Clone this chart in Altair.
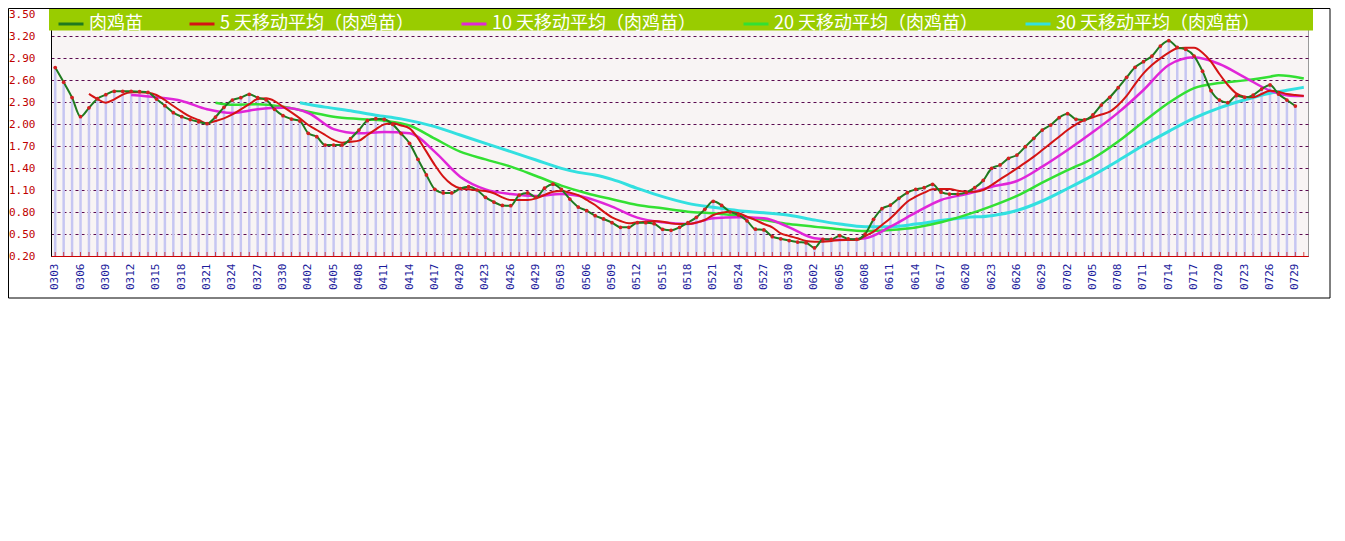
import altair as alt
import pandas as pd

# ---------------- categories ----------------
DATES = [
    "0303", "0304", "0305", "0306", "0307", "0308", "0309", "0310", "0311", "0312",
    "0313", "0314", "0315", "0316", "0317", "0318", "0319", "0320", "0321", "0322",
    "0323", "0324", "0325", "0326", "0327", "0328", "0329", "0330", "0331",
    "0401", "0402", "0403", "0404", "0405", "0406", "0407", "0408", "0409", "0410",
    "0411", "0412", "0413", "0414", "0415", "0416", "0417", "0418", "0419", "0420",
    "0421", "0422", "0423", "0424", "0425", "0426", "0427", "0428", "0429", "0430",
    "0502", "0503", "0504", "0505", "0506", "0507", "0508", "0509", "0510", "0511",
    "0512", "0513", "0514", "0515", "0516", "0517", "0518", "0519", "0520", "0521",
    "0522", "0523", "0524", "0525", "0526", "0527", "0528", "0529", "0530", "0531",
    "0601", "0602", "0603", "0604", "0605", "0606", "0607", "0608", "0609", "0610",
    "0611", "0612", "0613", "0614", "0615", "0616", "0617", "0618", "0619", "0620",
    "0621", "0622", "0623", "0624", "0625", "0626", "0627", "0628", "0629", "0630",
    "0701", "0702", "0703", "0704", "0705", "0706", "0707", "0708", "0709", "0710",
    "0711", "0712", "0713", "0714", "0715", "0716", "0717", "0718", "0719", "0720",
    "0721", "0722", "0723", "0724", "0725", "0726", "0727", "0728", "0729", "0730",
]

X_LABELS = [
    "0303", "0306", "0309", "0312", "0315", "0318", "0321", "0324", "0327", "0330",
    "0402", "0405", "0408", "0411", "0414", "0417", "0420", "0423", "0426", "0429",
    "0503", "0506", "0509", "0512", "0515", "0518", "0521", "0524", "0527", "0530",
    "0602", "0605", "0608", "0611", "0614", "0617", "0620", "0623", "0626", "0629",
    "0702", "0705", "0708", "0711", "0714", "0717", "0720", "0723", "0726", "0729",
]

Y_TICKS = [0.2, 0.5, 0.8, 1.1, 1.4, 1.7, 2.0, 2.3, 2.6, 2.9, 3.2, 3.5]

# ---------------- series ----------------
RAW = [
    2.77, 2.57, 2.36, 2.10, 2.22, 2.345, 2.40, 2.445, 2.445, 2.445,
    2.44, 2.43, 2.34, 2.25, 2.155, 2.10, 2.06, 2.03, 2.005, 2.095,
    2.227, 2.327, 2.359, 2.405, 2.359, 2.33, 2.20, 2.114, 2.068, 2.04,
    1.873, 1.827, 1.713, 1.713, 1.713, 1.80, 1.918, 2.045, 2.073, 2.064,
    1.995, 1.87, 1.736, 1.518, 1.305, 1.109, 1.06, 1.06, 1.12, 1.145,
    1.10, 1.0, 0.936, 0.89, 0.886, 1.03, 1.06, 1.0, 1.125, 1.18,
    1.107, 0.977, 0.868, 0.818, 0.75, 0.705, 0.655, 0.591, 0.591, 0.655,
    0.655, 0.641, 0.564, 0.55, 0.591, 0.655, 0.727, 0.836, 0.945, 0.89,
    0.80, 0.76, 0.68, 0.565, 0.555, 0.464, 0.435, 0.41, 0.39, 0.38,
    0.31, 0.427, 0.427, 0.477, 0.432, 0.427, 0.50, 0.70, 0.845, 0.895,
    0.986, 1.064, 1.109, 1.132, 1.177, 1.07, 1.045, 1.045, 1.068, 1.132,
    1.23, 1.395, 1.441, 1.532, 1.577, 1.691, 1.804, 1.918, 1.986, 2.086,
    2.14, 2.064, 2.055, 2.123, 2.259, 2.364, 2.495, 2.636, 2.773, 2.85,
    2.927, 3.063, 3.136, 3.045, 3.018, 2.927, 2.72, 2.455, 2.327, 2.291,
    2.386, 2.364, 2.395, 2.477, 2.532, 2.409, 2.327, 2.245,
]

MA5_START = "0307"
MA5 = [
    2.41, 2.34, 2.29, 2.336, 2.40, 2.432, 2.432, 2.427, 2.395, 2.327,
    2.245, 2.168, 2.10, 2.055, 2.009, 2.04, 2.077, 2.13, 2.20, 2.27,
    2.34, 2.35, 2.313, 2.236, 2.159, 2.077, 1.986, 1.918, 1.85, 1.782,
    1.745, 1.759, 1.773, 1.85, 1.927, 1.995, 2.009, 1.98, 1.941, 1.805,
    1.623, 1.44, 1.282, 1.177, 1.123, 1.109, 1.10, 1.086, 1.055, 1.0,
    0.964, 0.964, 0.964, 0.986, 1.032, 1.077, 1.086, 1.064, 1.03, 0.964,
    0.895, 0.805, 0.727, 0.677, 0.645, 0.659, 0.668, 0.677, 0.668, 0.645,
    0.636, 0.636, 0.655, 0.691, 0.759, 0.791, 0.805, 0.782, 0.736, 0.69,
    0.636, 0.591, 0.509, 0.473, 0.441, 0.405, 0.395, 0.395, 0.405, 0.418,
    0.418, 0.418, 0.473, 0.532, 0.623, 0.714, 0.827, 0.941, 1.009, 1.064,
    1.109, 1.114, 1.114, 1.091, 1.077, 1.077, 1.10, 1.168, 1.245, 1.318,
    1.395, 1.473, 1.555, 1.645, 1.736, 1.827, 1.918, 1.995, 2.055, 2.091,
    2.13, 2.168, 2.259, 2.382, 2.545, 2.691, 2.804, 2.895, 2.973, 3.032,
    3.041, 3.041, 2.973, 2.85, 2.682, 2.532, 2.418, 2.373, 2.364, 2.409,
    2.455, 2.441, 2.409, 2.395, 2.382,
]

MA10_DATES = [
    "0312", "0315", "0318", "0321", "0324", "0327", "0330", "0402", "0405", "0408",
    "0411", "0414", "0417", "0420", "0423", "0426", "0429", "0503", "0506", "0509",
    "0512", "0515", "0518", "0521", "0524", "0527", "0530", "0602", "0605", "0608",
    "0611", "0614", "0617", "0620", "0623", "0626", "0629", "0702", "0705", "0708",
    "0711", "0714", "0717", "0720", "0723", "0726", "0729", "0730",
]
MA10 = [
    2.395, 2.364, 2.314, 2.20, 2.15, 2.20, 2.22, 2.15, 1.93, 1.873,
    1.89, 1.873, 1.62, 1.282, 1.109, 1.045, 1.018, 1.045, 0.995, 0.873,
    0.723, 0.659, 0.636, 0.714, 0.727, 0.714, 0.591, 0.441, 0.418, 0.441,
    0.60, 0.791, 0.964, 1.045, 1.145, 1.223, 1.418, 1.645, 1.89, 2.155,
    2.464, 2.804, 2.909, 2.818, 2.636, 2.455, 2.382, 2.382,
]

MA20_DATES = [
    "0322", "0324", "0327", "0330", "0402", "0405", "0408", "0411", "0414", "0417",
    "0420", "0423", "0426", "0429", "0503", "0506", "0509", "0512", "0515", "0518",
    "0521", "0524", "0527", "0530", "0602", "0605", "0608", "0611", "0614", "0617",
    "0620", "0623", "0626", "0629", "0702", "0705", "0708", "0711", "0714", "0717",
    "0720", "0723", "0726", "0727", "0730",
]
MA20 = [
    2.291, 2.263, 2.27, 2.236, 2.168, 2.10, 2.068, 2.045, 1.98, 1.80,
    1.623, 1.518, 1.418, 1.291, 1.159, 1.055, 0.973, 0.895, 0.85, 0.805,
    0.782, 0.745, 0.69, 0.636, 0.60, 0.564, 0.541, 0.555, 0.59, 0.66,
    0.76, 0.88, 1.02, 1.20, 1.37, 1.53, 1.76, 2.03, 2.29, 2.49,
    2.56, 2.595, 2.645, 2.665, 2.62,
]

MA30_DATES = [
    "0401", "0404", "0407", "0410", "0413", "0417", "0420", "0423", "0426", "0429",
    "0503", "0505", "0507", "0509", "0512", "0515", "0518", "0521", "0524", "0527",
    "0530", "0602", "0605", "0608", "0611", "0614", "0617", "0620", "0623", "0626",
    "0629", "0702", "0705", "0708", "0711", "0714", "0717", "0720", "0723", "0726",
    "0728", "0730",
]
MA30 = [
    2.29, 2.23, 2.18, 2.12, 2.07, 1.964, 1.85, 1.736, 1.623, 1.509,
    1.395, 1.34, 1.305, 1.245, 1.123, 1.009, 0.918, 0.864, 0.818, 0.79,
    0.755, 0.691, 0.636, 0.60, 0.60, 0.635, 0.685, 0.725, 0.75, 0.82,
    0.95, 1.12, 1.30, 1.50, 1.71, 1.90, 2.08, 2.22, 2.33, 2.42,
    2.46, 2.50,
]

SERIES = [
    "肉鸡苗",
    "5 天移动平均（肉鸡苗）",
    "10 天移动平均（肉鸡苗）",
    "20 天移动平均（肉鸡苗）",
    "30 天移动平均（肉鸡苗）",
]
COLORS = ["#1f7a1f", "#d41414", "#e026d8", "#33e033", "#33e0e0"]

# ---------------- tables ----------------
raw_df = pd.DataFrame({"date": DATES[:len(RAW)], "value": RAW, "series": SERIES[0]})
s5 = DATES.index(MA5_START)
ma5_df = pd.DataFrame({"date": DATES[s5:s5 + len(MA5)], "value": MA5, "series": SERIES[1]})
ma10_df = pd.DataFrame({"date": MA10_DATES, "value": MA10, "series": SERIES[2]})
ma20_df = pd.DataFrame({"date": MA20_DATES, "value": MA20, "series": SERIES[3]})
ma30_df = pd.DataFrame({"date": MA30_DATES, "value": MA30, "series": SERIES[4]})
tick_df = pd.DataFrame({"date": DATES})
one_df = pd.DataFrame({"k": [0]})

x_enc = alt.X(
    "date:O",
    scale=alt.Scale(type="band", domain=DATES, paddingInner=0, paddingOuter=0),
    axis=alt.Axis(
        values=X_LABELS, labelAngle=270, labelColor="#1c1c9c", labelFont="DejaVu Sans Mono",
        labelFontSize=11, labelPadding=7, ticks=False, tickSize=0, domainColor="#cc0000",
        domainWidth=1, grid=False, labelOverlap=False, title=None,
    ),
)
y_enc = alt.Y(
    "value:Q",
    scale=alt.Scale(domain=[0.2, 3.5], zero=False, nice=False),
    axis=alt.Axis(
        values=Y_TICKS, tickCount=len(Y_TICKS), format=".2f", labelColor="#c00000",
        labelFont="DejaVu Sans Mono", labelFontSize=11, labelPadding=16, labelOverlap=False,
        ticks=False, tickSize=0, domainColor="#000000", domainWidth=1, grid=True,
        gridColor="#5a0a50", gridDash=[3, 3], gridWidth=1, title=None,
    ),
)
color_enc = alt.Color(
    "series:N",
    scale=alt.Scale(domain=SERIES, range=COLORS),
    legend=alt.Legend(
        orient="none", legendX=6, legendY=-4, direction="horizontal", title=None,
        labelFont="Noto Sans CJK SC", labelFontSize=18, labelColor="#ffffff",
        symbolType="stroke", symbolSize=625, symbolStrokeWidth=3, labelOffset=4,
        columnPadding=40, labelLimit=400, padding=0, rowPadding=0,
    ),
)

bars = alt.Chart(raw_df).mark_bar(size=2.5, color="#c6c6f2").encode(
    x=x_enc, y=y_enc, y2=alt.datum(0.2)
)
ticks = alt.Chart(tick_df).mark_tick(
    orient="vertical", size=8, thickness=1, color="#cc0000", clip=True
).encode(x=x_enc, y=alt.datum(0.2))
band = alt.Chart(one_df).mark_rect(color="#99cc00").encode(
    x=alt.value(-2), x2=alt.value(1262), y=alt.value(-6), y2=alt.value(16.5)
)


def line(df, width):
    return alt.Chart(df).mark_line(interpolate="monotone", strokeWidth=width).encode(
        x=x_enc, y=y_enc, color=color_enc
    )


dots = alt.Chart(raw_df).mark_circle(size=14, color="#d42020", opacity=1).encode(
    x=x_enc, y=y_enc
)
frame = alt.Chart(one_df).mark_rect(fillOpacity=0, stroke="#000000", strokeWidth=1).encode(
    x=alt.value(-42.5), x2=alt.value(1279), y=alt.value(-5.5), y2=alt.value(284)
)

chart = alt.layer(
    bars, ticks, band,
    line(ma30_df, 3), line(ma20_df, 2.5), line(ma10_df, 2.5), line(ma5_df, 2), line(raw_df, 2),
    dots, frame,
).properties(
    width=1257, height=242,
    padding={"left": 43, "top": 6, "right": 23, "bottom": 45},
    autosize=alt.AutoSizeParams(type="none"),
).configure_view(stroke="#9a9a9a", strokeWidth=1, fill="#f8f4f4")

chart.save("out.html", embed_options={"renderer": "svg", "actions": False})
